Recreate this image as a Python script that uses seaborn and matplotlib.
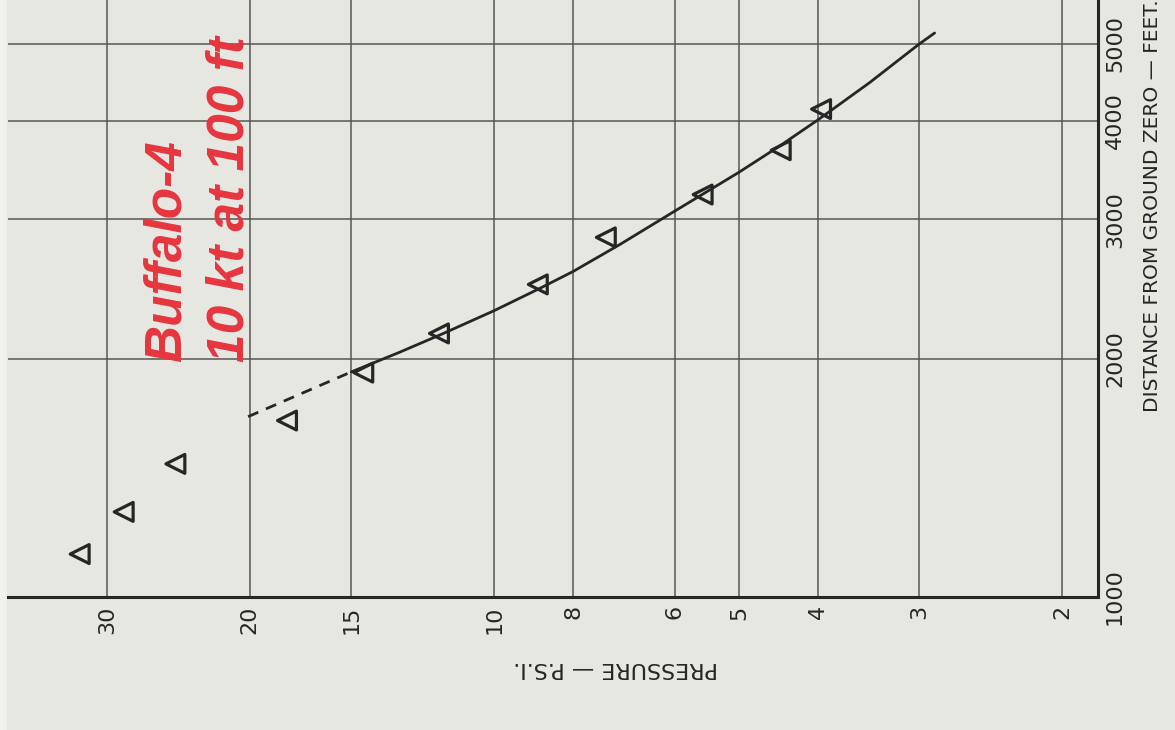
import matplotlib
matplotlib.use("Agg")
import matplotlib.pyplot as plt
import seaborn as sns
import pandas as pd
from matplotlib.ticker import FixedLocator, FixedFormatter, NullLocator

# Measured peak overpressure (psi) vs. distance from ground zero (ft)
obs_pressure = [32.4, 28.6, 24.7, 18.0, 14.5, 11.7, 8.84, 7.29, 5.54, 4.44, 3.96]
obs_distance = [1133, 1281, 1473, 1671, 1921, 2153, 2483, 2847, 3225, 3669, 4135]

# Fitted curve (solid part) and its extrapolation (dashed part)
fit_pressure = [15, 13.1, 11.6, 10, 8.78, 8, 7.0, 6, 5, 4.45, 4, 3.45, 3, 2.87]
fit_distance = [1925, 2037, 2149, 2301, 2456, 2578, 2790, 3072, 3440, 3716, 4004, 4467, 4995, 5160]
ext_pressure = [20.1, 15]
ext_distance = [1690, 1925]

x_ticks = [30, 20, 15, 10, 8, 6, 5, 4, 3, 2]
x_tick_labels = ["30", "20", "15", "10", "8", "6", "5", "4", "3", "2"]
y_ticks = [1000, 2000, 3000, 4000, 5000]
y_tick_labels = ["1000", "2000", "3000", "4000", "5000"]

title_lines = ["Buffalo-4", "10 kt at 100 ft"]
x_label = "PRESSURE — P.S.I."
y_label = "DISTANCE FROM GROUND ZERO — FEET."

paper = "#e7e7e2"
ink = "#262626"
grid_ink = "#575757"
red = "#e6353f"

sns.set_theme(style="white")
plt.rcParams["font.family"] = ["DejaVu Sans"]

W, H = 1175, 730
fig = plt.figure(figsize=(W / 100, H / 100), dpi=100, facecolor=paper)
# lighter strip of bare paper along the left edge
fig.patches.append(plt.Rectangle((0, 0), 7 / W, 1, transform=fig.transFigure,
                                 facecolor="#f1f1ee", edgecolor="none", zorder=0))

ax = fig.add_axes([8 / W, 133 / H, (1098 - 8) / W, 597 / H])
ax.set_facecolor(paper)

obs = pd.DataFrame({"pressure": obs_pressure, "distance": obs_distance})
fit = pd.DataFrame({"pressure": fit_pressure, "distance": fit_distance})
ext = pd.DataFrame({"pressure": ext_pressure, "distance": ext_distance})

sns.lineplot(data=fit, x="pressure", y="distance", sort=False, estimator=None,
             color=ink, linewidth=2.0, ax=ax, zorder=3)
sns.lineplot(data=ext, x="pressure", y="distance", sort=False, estimator=None,
             color=ink, linewidth=2.0, linestyle=(0, (4, 3)), ax=ax, zorder=3)
sns.scatterplot(data=obs, x="pressure", y="distance", marker="<", s=185,
                facecolor="none", edgecolor=ink, linewidth=2.3, ax=ax, zorder=4)

ax.set_xscale("log")
ax.set_yscale("log")
ax.set_xlim(39.7, 1.806)
ax.set_ylim(1000, 5680)

ax.xaxis.set_major_locator(FixedLocator(x_ticks))
ax.xaxis.set_major_formatter(FixedFormatter(x_tick_labels))
ax.xaxis.set_minor_locator(NullLocator())
ax.yaxis.set_major_locator(FixedLocator(y_ticks))
ax.yaxis.set_major_formatter(FixedFormatter(y_tick_labels))
ax.yaxis.set_minor_locator(NullLocator())
ax.yaxis.tick_right()

ax.grid(True, which="major", color=grid_ink, linewidth=1.1)
ax.set_axisbelow(True)
ax.tick_params(axis="x", length=0, pad=6, labelsize=16, labelrotation=90, colors=ink)
ax.tick_params(axis="y", length=0, pad=5, labelsize=16, labelrotation=90, colors=ink)
for lab in ax.get_yticklabels():
    lab.set_verticalalignment("center")

ax.set_xlabel("")
ax.set_ylabel("")
for side in ("top", "left"):
    ax.spines[side].set_visible(False)
for side in ("bottom", "right"):
    ax.spines[side].set_color(ink)
    ax.spines[side].set_linewidth(2.2)

fig.text(616 / W, 1 - 668 / H, x_label, rotation=180, ha="center", va="center",
         fontsize=16, color=ink)
fig.text(1152 / W, 1 - 412 / H, y_label, rotation=90, ha="center", va="bottom",
         fontsize=14.5, color=ink)

fig.text(167 / W, 1 - 362 / H, title_lines[0], rotation=90, ha="center", va="bottom",
         fontsize=37, fontweight="bold", fontstyle="italic", color=red,
         family=["Liberation Sans", "DejaVu Sans"])
fig.text(230 / W, 1 - 362 / H, title_lines[1], rotation=90, ha="center", va="bottom",
         fontsize=37, fontweight="bold", fontstyle="italic", color=red,
         family=["Liberation Sans", "DejaVu Sans"])

fig.savefig("out.png", dpi=100, facecolor=paper)
